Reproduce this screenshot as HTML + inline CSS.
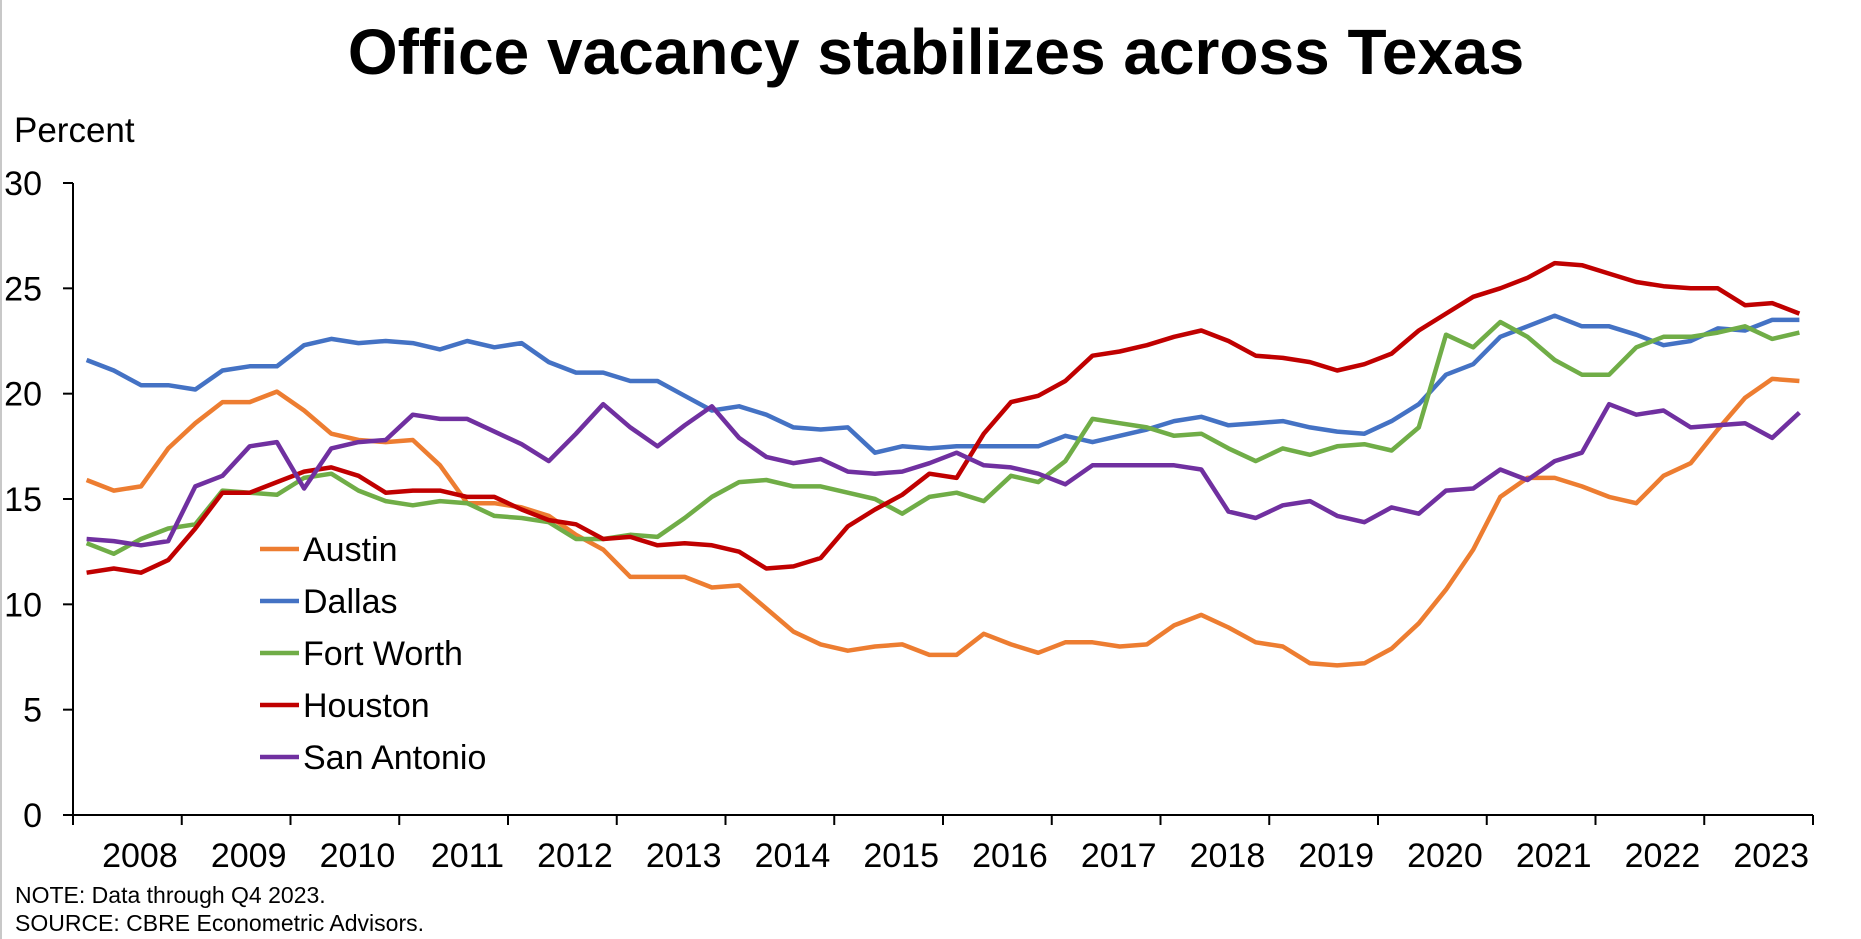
<!DOCTYPE html>
<html><head><meta charset="utf-8"><style>
html,body{margin:0;padding:0;background:#fff;}
svg{display:block;font-family:"Liberation Sans",Arial,sans-serif;}
</style></head><body>
<svg id="chart" width="1861" height="939" viewBox="0 0 1861 939">
<rect x="0" y="0" width="2" height="939" fill="#c8c8c8"/>
<text x="936" y="74" text-anchor="middle" font-size="64" font-weight="bold">Office vacancy stabilizes across Texas</text>
<text x="14" y="142" font-size="35">Percent</text>
<g id="axes"></g>
<g id="series"></g>
<g id="legend"></g>
<text x="15" y="903" font-size="23">NOTE: Data through Q4 2023.</text>
<text x="15" y="931" font-size="23">SOURCE: CBRE Econometric Advisors.</text>
</svg>
<script>
const years = ["2008","2009","2010","2011","2012","2013","2014","2015","2016","2017","2018","2019","2020","2021","2022","2023"];
const yTicks = [0,5,10,15,20,25,30];
const seriesNames = ["Austin","Dallas","Fort Worth","Houston","San Antonio"];
const seriesColors = ["#ED7D31","#4472C4","#70AD47","#C00000","#7030A0"];
const austin = [15.9,15.4,15.6,17.4, 18.6,19.6,19.6,20.1, 19.2,18.1,17.8,17.7, 17.8,16.6,14.8,14.8, 14.6,14.2,13.3,12.6, 11.3,11.3,11.3,10.8, 10.9,9.8,8.7,8.1, 7.8,8.0,8.1,7.6, 7.6,8.6,8.1,7.7, 8.2,8.2,8.0,8.1, 9.0,9.5,8.9,8.2, 8.0,7.2,7.1,7.2, 7.9,9.1,10.7,12.6, 15.1,16.0,16.0,15.6, 15.1,14.8,16.1,16.7, 18.3,19.8,20.7,20.6];
const dallas = [21.6,21.1,20.4,20.4, 20.2,21.1,21.3,21.3, 22.3,22.6,22.4,22.5, 22.4,22.1,22.5,22.2, 22.4,21.5,21.0,21.0, 20.6,20.6,19.9,19.2, 19.4,19.0,18.4,18.3, 18.4,17.2,17.5,17.4, 17.5,17.5,17.5,17.5, 18.0,17.7,18.0,18.3, 18.7,18.9,18.5,18.6, 18.7,18.4,18.2,18.1, 18.7,19.5,20.9,21.4, 22.7,23.2,23.7,23.2, 23.2,22.8,22.3,22.5, 23.1,23.0,23.5,23.5];
const fortWorth = [12.9,12.4,13.1,13.6, 13.8,15.4,15.3,15.2, 16.0,16.2,15.4,14.9, 14.7,14.9,14.8,14.2, 14.1,13.9,13.1,13.1, 13.3,13.2,14.1,15.1, 15.8,15.9,15.6,15.6, 15.3,15.0,14.3,15.1, 15.3,14.9,16.1,15.8, 16.8,18.8,18.6,18.4, 18.0,18.1,17.4,16.8, 17.4,17.1,17.5,17.6, 17.3,18.4,22.8,22.2, 23.4,22.7,21.6,20.9, 20.9,22.2,22.7,22.7, 22.9,23.2,22.6,22.9];
const houston = [11.5,11.7,11.5,12.1, 13.6,15.3,15.3,15.8, 16.3,16.5,16.1,15.3, 15.4,15.4,15.1,15.1, 14.5,14.0,13.8,13.1, 13.2,12.8,12.9,12.8, 12.5,11.7,11.8,12.2, 13.7,14.5,15.2,16.2, 16.0,18.1,19.6,19.9, 20.6,21.8,22.0,22.3, 22.7,23.0,22.5,21.8, 21.7,21.5,21.1,21.4, 21.9,23.0,23.8,24.6, 25.0,25.5,26.2,26.1, 25.7,25.3,25.1,25.0, 25.0,24.2,24.3,23.8];
const sanAntonio = [13.1,13.0,12.8,13.0, 15.6,16.1,17.5,17.7, 15.5,17.4,17.7,17.8, 19.0,18.8,18.8,18.2, 17.6,16.8,18.1,19.5, 18.4,17.5,18.5,19.4, 17.9,17.0,16.7,16.9, 16.3,16.2,16.3,16.7, 17.2,16.6,16.5,16.2, 15.7,16.6,16.6,16.6, 16.6,16.4,14.4,14.1, 14.7,14.9,14.2,13.9, 14.6,14.3,15.4,15.5, 16.4,15.9,16.8,17.2, 19.5,19.0,19.2,18.4, 18.5,18.6,17.9,19.1];
const allSeries = [austin,dallas,fortWorth,houston,sanAntonio];

const NS="http://www.w3.org/2000/svg";
const X0=73, X1=1813, Y0=815, Y30=183;
const nPts = years.length*4;
const slot=(X1-X0)/nPts;
function xScale(i){return X0+(i+0.5)*slot;}
function yScale(v){return Y0-(v/30)*(Y0-Y30);}
function mk(tag,attrs,parent){const e=document.createElementNS(NS,tag);for(const k in attrs)e.setAttribute(k,attrs[k]);parent.appendChild(e);return e;}

const axes=document.getElementById('axes');
const yAxis=mk('line',{x1:X0,y1:Y30,x2:X0,y2:Y0+10,stroke:'#000','stroke-width':2},axes);


const xAxis=mk('line',{x1:X0,y1:Y0,x2:X1,y2:Y0,stroke:'#000','stroke-width':2},axes);


yTicks.forEach(v=>{
  const y=yScale(v);
  const t=mk('line',{x1:X0-10,y1:y,x2:X0,y2:y,stroke:'#000','stroke-width':2},axes);
  
  
  const l=mk('text',{x:42,y:y+12,'text-anchor':'end','font-size':34},axes);
  l.textContent=v;
  
  
});
for(let k=0;k<=years.length;k++){
  const x=X0+k*4*slot;
  const t=mk('line',{x1:x,y1:Y0,x2:x,y2:Y0+10,stroke:'#000','stroke-width':2},axes);
  
  
}
years.forEach((yr,k)=>{
  const l=mk('text',{x:X0+(k+1)*4*slot-4,y:867,'text-anchor':'end','font-size':34},axes);
  l.textContent=yr;
  
  
});

const sg=document.getElementById('series');
allSeries.forEach((data,s)=>{
  const pts=data.map((v,i)=>xScale(i).toFixed(1)+','+yScale(v).toFixed(1)).join(' ');
  const p=mk('polyline',{points:pts,fill:'none',stroke:seriesColors[s],'stroke-width':4.5,'stroke-linejoin':'round'},sg);
  
  
});

const lg=document.getElementById('legend');
seriesNames.forEach((n,s)=>{
  const y=549+s*52;
  const g=mk('g',{},lg);
  
  
  mk('line',{x1:260,y1:y,x2:299,y2:y,stroke:seriesColors[s],'stroke-width':4.5},g);
  const t=mk('text',{x:303,y:y+12,'font-size':34},g);
  t.textContent=n;
});
</script>
</body></html>
